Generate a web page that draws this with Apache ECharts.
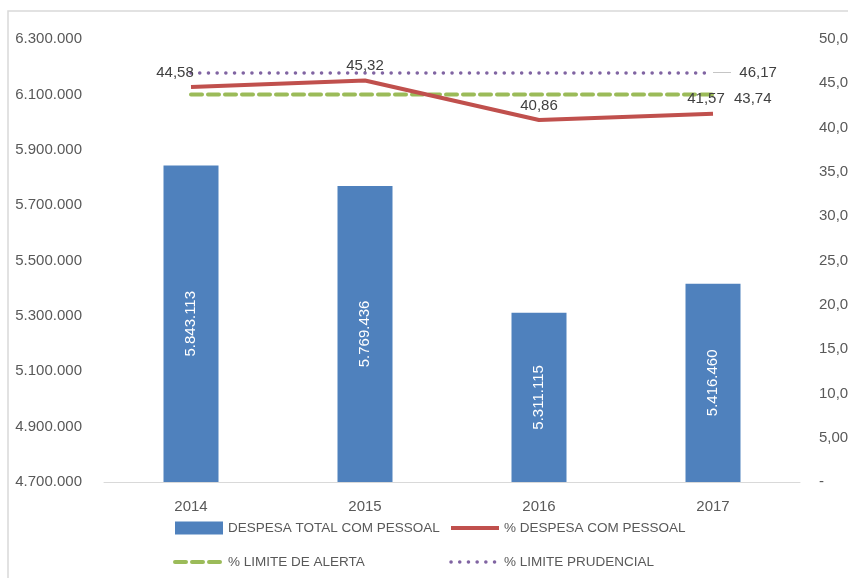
<!DOCTYPE html>
<html lang="pt">
<head>
    <meta charset="UTF-8">
    <title>Despesa com pessoal</title>
    <script src="https://cdn.jsdelivr.net/npm/echarts@6/dist/echarts.min.js"></script>
    <style>
        html, body { margin: 0; padding: 0; background: #fff; }
        #chart { width: 848px; height: 578px; }
    </style>
</head>
<body>
<div id="chart"></div>
<script>
    var anos = ['2014', '2015', '2016', '2017'];
    var despesaTotal = [5843113, 5769436, 5311115, 5416460];
    var pctDespesa = [44.58, 45.32, 40.86, 41.57];
    var pctAlerta = [43.74, 43.74, 43.74, 43.74];
    var pctPrudencial = [46.17, 46.17, 46.17, 46.17];

    var FONT = '"Liberation Sans", Arial, sans-serif';
    var GRAY = '#595959';

    function milhar(v) {
        return String(Math.round(v)).replace(/\B(?=(\d{3})+(?!\d))/g, '.');
    }
    function pct(v) {
        return v === 0 ? '-' : v.toFixed(2).replace('.', ',');
    }

    var semSimbolo = { opacity: 0 };
    // deslocamento dos rótulos do primeiro e do último ponto (como no Excel)
    var desloc = { 0: [-16, 0], 3: [-7, 0] };

    var chart = echarts.init(document.getElementById('chart'));
    var option = {
        animation: false,
        textStyle: { fontFamily: FONT },
        graphic: [{
            type: 'rect',
            shape: { x: 8, y: 11, width: 900, height: 700 },
            style: { fill: 'none', stroke: '#d9d9d9', lineWidth: 1.5 },
            silent: true
        }],
        grid: { left: 104, right: 48, top: 39, bottom: 96, outerBoundsMode: 'none', containLabel: false },
        legend: [{
            orient: 'vertical',
            left: 168, top: 516,
            itemWidth: 48, itemHeight: 13, itemGap: 20,
            textStyle: { color: GRAY, fontSize: 13.5, fontFamily: FONT },
            data: [
                { name: 'DESPESA TOTAL COM PESSOAL', icon: 'rect' },
                { name: '% LIMITE DE ALERTA', itemStyle: semSimbolo, lineStyle: { width: 4 } }
            ]
        }, {
            orient: 'vertical',
            left: 444, top: 516,
            itemWidth: 48, itemHeight: 13, itemGap: 20,
            textStyle: { color: GRAY, fontSize: 13.5, fontFamily: FONT },
            data: [
                { name: '% DESPESA COM PESSOAL', itemStyle: semSimbolo, lineStyle: { width: 4 } },
                { name: '% LIMITE PRUDENCIAL', itemStyle: semSimbolo, lineStyle: { width: 3.5 } }
            ]
        }],
        xAxis: {
            type: 'category',
            data: anos,
            axisLine: { lineStyle: { color: '#d9d9d9', width: 1 } },
            axisTick: { show: false },
            axisLabel: { color: GRAY, fontSize: 15, margin: 17 }
        },
        yAxis: [{
            type: 'value',
            min: 4700000, max: 6300000, interval: 100000,
            splitLine: { show: false },
            axisLine: { show: false },
            axisTick: { show: false },
            axisLabel: {
                color: GRAY, fontSize: 15, margin: 22,
                formatter: function (v) {
                    return (v - 4700000) % 200000 === 0 ? milhar(v) : '';
                }
            }
        }, {
            type: 'value',
            min: 0, max: 50, interval: 5,
            splitLine: { show: false },
            axisLine: { show: false },
            axisTick: { show: false },
            axisLabel: { color: GRAY, fontSize: 15, margin: 19, formatter: pct }
        }],
        series: [{
            name: 'DESPESA TOTAL COM PESSOAL',
            type: 'bar',
            data: despesaTotal,
            barWidth: 55,
            itemStyle: { color: '#4F81BD' },
            label: {
                show: true,
                position: 'inside',
                rotate: 90,
                color: '#fff',
                fontSize: 15,
                formatter: function (p) { return milhar(p.value); }
            }
        }, {
            name: '% DESPESA COM PESSOAL',
            type: 'line',
            yAxisIndex: 1,
            symbol: 'circle',
            symbolSize: 0,
            data: pctDespesa.map(function (v, i) {
                return desloc[i] ? { value: v, label: { offset: desloc[i] } } : v;
            }),
            lineStyle: { color: '#C0504D', width: 4 },
            itemStyle: { color: '#C0504D' },
            label: {
                show: true,
                position: 'top',
                distance: 7,
                color: '#404040',
                fontSize: 15,
                formatter: function (p) { return pct(p.value); }
            },
            z: 4
        }, {
            name: '% LIMITE DE ALERTA',
            type: 'line',
            yAxisIndex: 1,
            symbol: 'none',
            data: pctAlerta,
            lineStyle: { color: '#9BBB59', width: 4, type: [11, 6], cap: 'round' },
            itemStyle: { color: '#9BBB59' },
            endLabel: {
                show: true,
                distance: 21,
                offset: [0, 4],
                color: '#404040',
                fontSize: 15,
                formatter: function (p) { return pct(p.value); }
            },
            z: 3
        }, {
            name: '% LIMITE PRUDENCIAL',
            type: 'line',
            yAxisIndex: 1,
            symbol: 'none',
            data: pctPrudencial,
            lineStyle: { color: '#8064A2', width: 3.5, type: [0.1, 8.6], cap: 'round' },
            itemStyle: { color: '#8064A2' },
            endLabel: {
                show: true,
                distance: 0,
                color: '#404040',
                fontSize: 15,
                formatter: function (p) { return '{d|——}  ' + pct(p.value); },
                rich: { d: { color: '#a6a6a6', fontSize: 9 } }
            },
            z: 3
        }]
    };
    chart.setOption(option);
</script>
</body>
</html>
